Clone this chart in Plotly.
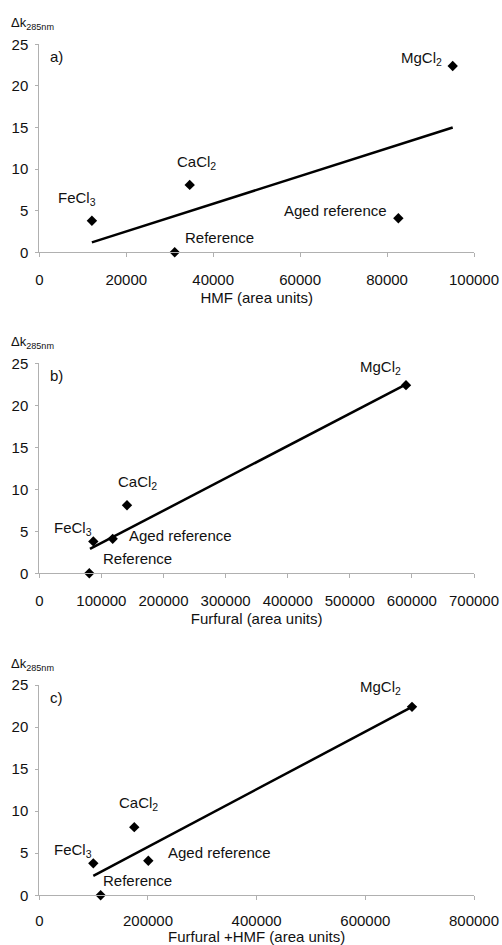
import plotly.graph_objects as go

# Samples and measured Δk at 285 nm (shared by all three panels)
samples = ["FeCl<sub>3</sub>", "Reference", "CaCl<sub>2</sub>", "Aged reference", "MgCl<sub>2</sub>"]
dk285 = [3.8, 0.0, 8.1, 4.1, 22.4]

# Degradation products (area units)
hmf = [12100, 31150, 34600, 82600, 95100]
furfural = [87000, 80500, 141200, 118200, 590500]
furfural_hmf = [99400, 112900, 174800, 200600, 685900]

# Linear trend lines (start / end)
trend_hmf_x = [12100, 95100]
trend_hmf_y = [1.2, 15.0]
trend_fur_x = [81600, 590500]
trend_fur_y = [2.9, 22.5]
trend_sum_x = [99400, 685900]
trend_sum_y = [2.3, 22.4]

x_titles = ["HMF (area units)", "Furfural (area units)", "Furfural +HMF (area units)"]
x_ranges = [[0, 100000], [0, 700000], [0, 800000]]
x_dticks = [20000, 100000, 200000]
panel_tags = ["a)", "b)", "c)"]

W, H = 502, 945
FONT = "Liberation Sans, Arial, sans-serif"
FS = 15
INK = "#111111"
AXIS = "#b0b0b0"

# plot-area pixel boxes (left, right, top, bottom)
X_L, X_R = 39.3, 474.0
boxes_y = [(44.3, 252.3), (363.3, 573.3), (685.0, 895.3)]
# tick-label / title spacing under each x axis
tick_standoff = [10, 10, 8]
title_standoff = [5, 5, 7]

# label placement per panel: (anchor, dx px, dy px up)
label_place = [
    [("center", -15, 22), ("left", 8, 15), ("center", 7, 22), ("right", -9, 8), ("right", -9, 7)],
    [("center", -20, 13), ("left", 12, 15), ("center", 11, 23), ("left", 14, 3), ("right", -3, 18)],
    [("center", -20, 13), ("left", 0, 15), ("center", 4, 24), ("left", 18, 8), ("right", -9, 19)],
]

xs_all = [hmf, furfural, furfural_hmf]
trends = [(trend_hmf_x, trend_hmf_y), (trend_fur_x, trend_fur_y), (trend_sum_x, trend_sum_y)]

fig = go.Figure()
layout = dict(
    template="none",
    width=W, height=H, autosize=False,
    margin=dict(l=0, r=0, t=0, b=0, pad=0),
    paper_bgcolor="white", plot_bgcolor="white",
    showlegend=False,
    font=dict(family=FONT, size=FS, color=INK),
)
annotations = []

for i in range(3):
    sfx = "" if i == 0 else str(i + 1)
    xa, ya = "x" + sfx, "y" + sfx
    top, bot = boxes_y[i]

    fig.add_trace(go.Scatter(
        x=trends[i][0], y=trends[i][1], mode="lines",
        line=dict(color="black", width=2.5),
        xaxis=xa, yaxis=ya, hoverinfo="skip", cliponaxis=False,
    ))
    fig.add_trace(go.Scatter(
        x=xs_all[i], y=dk285, mode="markers",
        marker=dict(symbol="diamond", size=8, color="black", line=dict(width=0)),
        xaxis=xa, yaxis=ya, cliponaxis=False,
    ))

    layout["xaxis" + sfx] = dict(
        domain=[X_L / W, X_R / W], anchor=ya, automargin=False,
        range=x_ranges[i], dtick=x_dticks[i], tick0=0,
        tickformat="d", showgrid=False, zeroline=False,
        showline=True, linecolor=AXIS, linewidth=1,
        ticks="outside", ticklen=4, tickcolor=AXIS, tickwidth=1,
        ticklabelstandoff=tick_standoff[i],
        tickfont=dict(family=FONT, size=FS, color=INK),
        title=dict(text=x_titles[i], font=dict(family=FONT, size=FS, color=INK),
                   standoff=title_standoff[i]),
    )
    layout["yaxis" + sfx] = dict(
        domain=[1 - bot / H, 1 - top / H], anchor=xa, automargin=False,
        range=[0, 25], dtick=5, tick0=0,
        showgrid=False, zeroline=False,
        showline=True, linecolor=AXIS, linewidth=1,
        ticks="outside", ticklen=3, tickcolor=AXIS, tickwidth=1,
        ticklabelstandoff=4,
        tickfont=dict(family=FONT, size=FS, color=INK),
    )

    # y-axis caption above the axis
    annotations.append(dict(
        text="Δk<sub>285nm</sub>", xref="paper", yref="paper",
        x=9 / W, y=1 - (top - 21) / H, xanchor="left", yanchor="middle",
        showarrow=False, font=dict(family=FONT, size=13, color=INK),
    ))
    # panel tag
    annotations.append(dict(
        text=panel_tags[i], xref="paper", yref="paper",
        x=48 / W, y=1 - (top + 12) / H, xanchor="left", yanchor="middle",
        showarrow=False, font=dict(family=FONT, size=FS, color=INK),
    ))
    # point labels
    for j, name in enumerate(samples):
        anchor, dx, dy = label_place[i][j]
        annotations.append(dict(
            text=name, xref=xa, yref=ya, x=xs_all[i][j], y=dk285[j],
            xanchor=anchor, yanchor="middle", xshift=dx, yshift=dy,
            showarrow=False, font=dict(family=FONT, size=FS, color=INK),
        ))

layout["annotations"] = annotations
fig.update_layout(**layout)
fig.write_html("out.html")
